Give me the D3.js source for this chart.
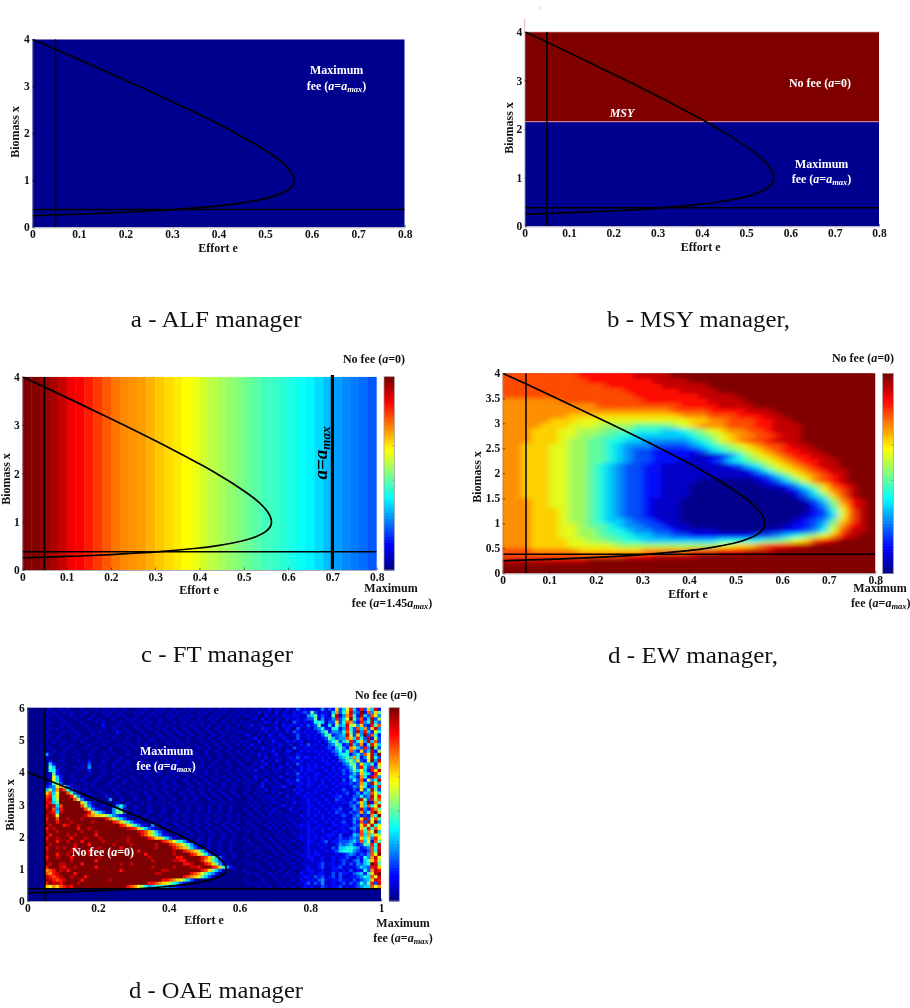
<!DOCTYPE html>
<html><head><meta charset="utf-8">
<script src="https://cdn.jsdelivr.net/npm/d3@7"></script>
<style>
html,body{margin:0;padding:0;background:#fff}
svg{filter:blur(.35px)}
text{font-family:"Liberation Serif","Times New Roman",serif}
.b{font-weight:bold;font-size:12px;fill:#111}
.tick text{font-family:"Liberation Serif",serif;font-weight:bold;font-size:11.5px;fill:#111}
.cap{font-size:24px;fill:#111}
</style></head><body>
<svg id="c" width="910" height="1008"></svg>
<script>
// ---------- data ----------
const curveBiomass=[0.25,0.28,0.32,0.38,0.45,0.5,0.6,0.7,0.8,0.9,1,1.1,1.2,1.35,1.5,1.75,2,2.15,2.5,3,3.5,3.8,4];
const curveEffort=[0,0.1,0.201,0.31,0.394,0.4375,0.496,0.53,0.55,0.56,0.5625,0.56,0.554,0.54,0.521,0.482,0.4375,0.409,0.3375,0.229,0.116,0.047,0];
const minEffort=0.05, minBiomass=0.38, msyBiomass=2.15, ftEffortLimit=0.7;
const ticks08=[0,0.1,0.2,0.3,0.4,0.5,0.6,0.7,0.8];
const ticks10=[0,0.2,0.4,0.6,0.8,1];
const ticksY4=[0,1,2,3,4];
const ticksYHalf=[0,0.5,1,1.5,2,2.5,3,3.5,4];
const ticksY6=[0,1,2,3,4,5,6];
// FT manager: colour level per effort column (step 0.02), 1 = no fee, 0 = max
const ftLevels=[1,.995,.98,.96,.93,.89,.875,.85,.82,.79,.76,.74,.73,.72,.70,.68,.66,.645,.625,.61,.58,.56,.54,.52,.50,.48,.46,.44,.43,.415,.40,.38,.365,.34,.31,.28,.26,.245,.23,.21];
// EW manager: hex levels (0..f); rows x=3.95 down to 0.05, columns e step 0.02; short rows continue with f
const ewRows=[
"ccccccccddddddeeee",
"cccccccccdddddddeeee",
"cccccccccccddddddeeeee",
"cccccccccccccddddddeeee",
"ccccccccccccccdddddddeeee",
"bbbbbbcccccccccdddddddeeee",
"bbbbbbbbbbcccccccccddddeeee",
"bbbbbbbbbbbbbbbbbbccccddddeee",
"bbbbbbbaaaaaaaaaaaabbbcccdddee",
"bbbbbaaa999999999999aabbcccddee",
"bbbbaaa9998888777789abbbcccddeee",
"bbbaaa99888777666556789abbccdeee",
"bbbaaa998877665555556789abbccdee",
"bbbaaa988776655444445679abccdeee",
"bbaaa998877654443333456789abccdee",
"bbaaa9988776543322222356789abcddee",
"bbaaa99887765433222211124689abcddee",
"bbaaa998877654332221112356789abcddee",
"bbaaa9988765433221111111235689abcdee",
"bbaaa99887654332211111111124689abcdee",
"bbaaa998876543322111111111123579abcde",
"bbaaa998876543322111100000012"+"3579bcde",
"bbaaa99887654332211100000000"+"112468acde",
"bbaaa99887654332211100000000"+"0012469bce",
"bbaaa99887654332211100000000"+"0001357ace",
"bbbaa99887654332111"+"0000000000000"+"1358bde",
"bbbaa99887654332111"+"00000000000000"+"247ade",
"bbbaaa9887654332111"+"00000000000000"+"2369ce",
"bbbaaa9887654332111"+"0000000000000"+"12359cef",
"bbbaaa9887655433211"+"000000000000"+"12347ace",
"bbbaaa99877654433211"+"0000000000"+"122358bde",
"bbbaaa99887665443321111"+"00000"+"11223469cee",
"bbbaaa99887766554433"+"2222222"+"33456789bde",
"bbbaaaa99887766"+"55555555"+"66666"+"77"+"89acde",
"bbbaaaa99999"+"88888888888"+"99aabcddee",
"cccbbbbb"+"aaaaaaa"+"bbbbb"+"ccc"+"ddd"+"eee",
"ccccccccccccc"+"ddd"+"eeeee",
"eeeeeeeee",
"",
""];
// OAE manager: hex levels; rows x=5.95 down to 0.05; columns e step 0.01. Left part e<0.6, right part e>=0.6
const oaeLeft=[
"000000100101000100010010100100010100101001001010010100101001",
"000001010010100010000101001000101001010010100100101001010010",
"000000101000100100100010010100010010100101001010010010100101",
"000001000100010001001000100010100100010010010100100101001010",
"000000100010000100010100001001001010010001001001010010010010",
"000001000101000010000200010000100100100100010010010100101001",
"000000101000100001000100100100010010001001001001001001001010",
"000001000010010000101000020010001000100100100100100100101001",
"000000100100001000100010010001000100010010010010010010010010",
"000001001000010010001000100010010001001001000100100100100101",
"000000010010000100010010000100010010000100100100010010010010",
"000001000100100001000100010001000100100010010001001001001001",
"000000100001000010010001000100100010001001000100100100100100",
"000000010010010000100001000010001000100010010010001001001001",
"000004100100001001000100100010001000100010001001001000100100",
"000001000010010000100010001000100100010001000100100100100010",
"000000200100001002000100010010001001000100100010010001001001",
"000000520010000103000100100010010001000100100010010010001000",
"000000750100010104001000100100010010010001000100100100100100",
"000000662010001002000100010001000100010010010001001001001001",
"000000172100010001000100100100010010010001001001001001000100",
"000000195200100010001000010001000100100100100100010010010010",
"000000195200010100010000100100100010001001001001001001001001",
"000000277300100010100001000100010001001001000100100100010010",
"000002349b73101000100010010001000100100100100010010010010010",
"00000584bec6310010001000100100010001001001000100100100100100",
"00000ac59ffc731001000100010001000100100100010010010010010010",
"00000cd6afffd84100100020001000100010010010001001001001001001",
"00000de68ffffc8410010004001000100010001001001001000100100100",
"00000ed57ffffffa73100100010010001000100010010010010010010010",
"00000dfe5cfffffc84200100146300100010001001000100100100100100",
"00000efc4dffffffc8421000475200100010001000100100100100100100",
"00000fed5efffffffda75310478300100010001000100100100100100100",
"00000efe9fffffffecbaa986432100100100010001001001001001001001",
"00000dffcffefffeffffffdb975310010001000100100100100100100100",
"00000effdfffefffffefffffdca8642100100010010010010010010010010",
"00000fefffdeffefffffffffffdca864210400100010010010010001001001",
"00000dfeffffffdffeffffffffffedca7532100100010001001001001001",
"00000effeffffffefffefffffffffffedca853100100010010010010010010",
"00000fdffffefefffffdffffffffffffdca86421001000100100100100100",
"00000dffefffdfffefffefffffffefffffdcaa7531001000100100010010",
"00000effdffefffdfffffeffffffefffffffffdcb976420010010010010010",
"00000feffffffefffdffffffeffffeffffffefffdcba86421001001001001",
"00000dffefeffdffffffefffffdfffffffffeffffdcba853100100100100",
"00000effffffeffffdfffffefffffffdfffffffffeffdcba85310010010",
"00000effdffefffffeffffffeffffffffdfffffffeffffdca8631001001",
"00000dffefffdfffffffefffffffffffffefffffffddfffffdca7531001",
"00000effffffeffffffdfffffffffffffffefffffeeddffffdba753100",
"00000feffeeffffdffffffffffeffeffffffffffffffddefffdca74210",
"00000dfffedffefffffdfffffffffffffffefffffeffffeedfffdca6421",
"00000bcdfefdffffffffffffffdfffffffffffeefffffffffdca7531000",
"00000cbdeffffdffffffffffffffffffffffeeffffffffdcb975420000",
"00000edcdeffefffdfffffffffffffffffffffffffffdcba975310000",
"00000fedcdeffffdfffffffeffffffffffffffddcba97531000000",
"00000dfeedffffefffffffffffffffffffddcba9865321000",
"00000a9bacdedfffffffffffffffdcb9864566543321",
"","","",""];
const oaeRight=[
"0100101020 1102013121 2114132a35 9d52d3a5e2",
"1001020110 2011021232 7312215b36 ae43f2c4a7",
"0110100201 1021122114 5723217e14 bd62e53c94",
"0001102010 1102112123 3714124d35 9f73c25e38",
"1010010210 2011032121 2665133a36 cb42d46e53",
"0102011001 1021211213 2372152845 e894a32d7c",
"0010102110 2012103112 1346226624 d63c5b3ae4",
"1001010201 1102032121 2135724436 c73e4d5296",
"0120010021 0210113112 1213672345 e83a4f3c62",
"0001201011 1021013112 1212375344 ca5d63e283",
"1010020102 1102121201 1121246735 7d36a4e5c3",
"0102010011 0210201213 1212134762 3e53b26da5",
"0010102101 1101031121 2111232574 2ba53d4f73",
"0101001012 0102201212 1212123463 6c42a35e28",
"1001020101 2011012111 1121212356 62463c9e4f",
"0110010201 1101213122 1212121245 75b6249e63",
"0010102010 2101121211 2112212134 685a329f4e",
"1000101201 0102013112 1211221213 4773a5462a",
"0101012001 0210201212 1212112122 3583d63d38",
"0010200101 1101021212 2111212123 2475952dae",
"1001010110 1002113121 1221121213 2353a652d9",
"0100201001 0210102212 1211212122 2542b62ec4",
"0010100201 1002113112 1212121213 1363c2946e",
"0101002010 1101211212 2112112122 2323b63ea5",
"0010012001 0121002112 1121211212 1243a6236d",
"0010010201 1001021211 1212112123 2132a36e73",
"0100101001 0201012112 1211121212 3124254c96",
"0010010110 1002011121 2112112231 2133634e9d",
"0001001011 0110110112 1211211322 1242e73d8c",
"0010100101 1001021112 1121121212 2324a5f2b7",
"0001010010 0120110112 2112112121 1342a5c69e",
"0100100101 1001201112 1211212231 2143e42db7",
"0010010011 0100111012 1121121322 1323b36dfa",
"0001001010 1011010212 1212112123 2134232b6f",
"0100100101 0101101111 2112121212 1243ae39c7",
"0010010010 1010110112 1211212123 1242c3e9f4",
"0001000101 0101011212 1121112212 2133ad8e69",
"0100100010 1010101112 1212121122 1342a7d6c9",
"0010010001 0100110112 2112112212 2132c6b9f5",
"0000100100 1010011112 1211222131 1254c5b6a8",
"0100010010 0101001212 1212121232 2343a6a4d9",
"0010001001 0010110112 2112312233 3453c592c7",
"0001000100 1001001012 1121211243 4532376d6e",
"0100010010 0100100112 1112113255 6654234c6d",
"0000100001 0010011012 1211212356 6643213c6e",
"0010001000 1001001112 1221111212 3432324c9f",
"0000010010 0010110112 2112112122 3213264be9",
"0100000100 1001001011 2112112123 2134257ad8",
"0010100010 0100110111 1123122123 1324356fe7",
"0000010001 0010011012 1123112231 2123543dea",
"0100001000 0100100112 2112112212 1312263bed",
"0010100010 1001010211 2122113132 2134526aef",
"0000010001 0010101122 1323123131 1223465c9e",
"0100001000 1000110212 2134212232 2132345aed",
"0010100100 0101001123 1324112123 1323647d3e",
"0000010010 0010110121 2113212231 2123455c9b",
"","","",""];
const oaeRows=oaeLeft.map((r,i)=>r.padEnd(60,"0").slice(0,60)+oaeRight[i].replace(/ /g,"").padEnd(40,"0").slice(0,40));
const cbLevels=d3.range(64);

// ---------- helpers ----------
const jet=d3.scaleLinear()
  .domain([0,.125,.375,.625,.875,1])
  .range(["#00008f","#0000ff","#00ffff","#ffff00","#ff0000","#800000"]);
const svg=d3.select("#c");
const defs=svg.append("defs");
[["blur1","3.5 2.2"],["blur2",".5"]].forEach(([id,s])=>defs.append("filter").attr("id",id)
  .attr("x","-5%").attr("y","-5%").attr("width","110%").attr("height","110%")
  .append("feGaussianBlur").attr("stdDeviation",s));
let clipN=0;

function panel(o){
  const x=d3.scaleLinear().domain([0,o.eMax]).range([o.x0,o.x1]);
  const y=d3.scaleLinear().domain([0,o.yMax]).range([o.y1,o.y0]);
  const id="clip"+(clipN++);
  defs.append("clipPath").attr("id",id).append("rect")
    .attr("x",o.x0).attr("y",o.y0).attr("width",o.x1-o.x0).attr("height",o.y1-o.y0);
  const g=svg.append("g");
  const plot=g.append("g").attr("clip-path",`url(#${id})`);
  o.fill(plot,x,y);
  const ov=g.append("g").attr("clip-path",`url(#${id})`);
  ov.append("line").attr("x1",x(minEffort)).attr("x2",x(minEffort)).attr("y1",o.y0).attr("y2",o.y1)
    .attr("stroke","#000").attr("stroke-width",1.5);
  ov.append("line").attr("x1",o.x0).attr("x2",o.x1).attr("y1",y(minBiomass)).attr("y2",y(minBiomass))
    .attr("stroke","#000").attr("stroke-width",1.5);
  const line=d3.line().x(d=>x(d[0])).y(d=>y(d[1])).curve(d3.curveCatmullRom);
  ov.append("path").datum(curveEffort.map((e,i)=>[e,curveBiomass[i]])).attr("d",line)
    .attr("fill","none").attr("stroke","#000").attr("stroke-width",1.7);
  const ax=d3.axisBottom(x).tickValues(o.xTicks).tickFormat(String).tickSizeInner(-2.5).tickSizeOuter(0).tickPadding(3);
  const ay=d3.axisLeft(y).tickValues(o.yTicks).tickFormat(String).tickSizeInner(-2.5).tickSizeOuter(0).tickPadding(2.5);
  const gx=g.append("g").attr("transform",`translate(0,${o.y1})`).call(ax);
  const gy=g.append("g").attr("transform",`translate(${o.x0},0)`).call(ay);
  [gx,gy].forEach(s=>{s.select(".domain").attr("stroke","#8a8a9a").attr("stroke-width",.7);
    s.selectAll(".tick line").attr("stroke","#000").attr("stroke-width",.5);});
  g.append("text").attr("class","b").attr("text-anchor","middle").attr("x",o.xl[0]).attr("y",o.xl[1]+3.5).text("Effort e");
  g.append("text").attr("class","b").attr("text-anchor","middle")
    .attr("transform",`translate(${o.yl[0]+3.5},${o.yl[1]}) rotate(-90)`).text("Biomass x");
  return {g,x,y};
}
function label(g,cx,cy,txt,fill){
  const t=g.append("text").attr("class","b").attr("text-anchor","middle").attr("x",cx).attr("y",cy+3.5).style("fill",fill);
  txt.forEach(([s,it])=>{t.append("tspan").style("font-style",it?"italic":"normal").text(s);});
}
function fee(g,cx,cy,coef,fill){
  const t=g.append("text").attr("class","b").attr("text-anchor","middle").attr("x",cx).attr("y",cy+3.5).style("fill",fill);
  t.append("tspan").text("fee (");
  t.append("tspan").style("font-style","italic").text("a");
  t.append("tspan").text("="+coef);
  t.append("tspan").style("font-style","italic").text("a");
  t.append("tspan").style("font-style","italic").style("font-size","8.5px").attr("dy",2).text("max");
  t.append("tspan").attr("dy",-2).text(")");
}
function noFee(g,cx,cy,fill){ label(g,cx,cy,[["No fee (",0],["a",1],["=0)",0]],fill); }
function cap(x,y,s,w){ svg.append("text").attr("class","cap").attr("x",x).attr("y",y).attr("textLength",w).attr("lengthAdjust","spacingAndGlyphs").text(s); }
function colorbar(x0,x1,y0,y1){
  const g=svg.append("g");
  const y=d3.scaleLinear().domain([0,64]).range([y1,y0]);
  g.selectAll("rect").data(cbLevels).join("rect")
    .attr("x",x0).attr("width",x1-x0).attr("y",d=>y(d+1)).attr("height",d=>y(d)-y(d+1)+.5)
    .attr("fill",d=>jet(d/63));
  g.append("rect").attr("x",x0).attr("y",y0).attr("width",x1-x0).attr("height",y1-y0)
    .attr("fill","none").attr("stroke","#999").attr("stroke-width",.7);
  d3.range(1,6).forEach(i=>{const yy=y0+(y1-y0)*i/5.6;
    g.append("line").attr("x1",x1-1.5).attr("x2",x1).attr("y1",yy).attr("y2",yy).attr("stroke","#555").attr("stroke-width",.5);});
}
function heat(plot,x,y,rows,eStep,yStep,yTop,bg,blur,o){
  plot.append("rect").attr("x",o.x0).attr("y",o.y0).attr("width",o.x1-o.x0).attr("height",o.y1-o.y0).attr("fill",bg);
  const nCols=Math.round(o.eMax/eStep), pad=12;
  const cells=[];
  rows.forEach((r,ri)=>{for(let ci=0;ci<nCols;ci++){
    const ch=r[ci]||(bg===jet(1)?"f":"0");
    cells.push({ci,ri,v:parseInt(ch,16)/15});
  }});
  // edge cells reach past the clip so that the blur does not fade at the plot border
  plot.append("g").attr("filter",`url(#${blur})`).selectAll("rect").data(cells).join("rect")
    .attr("x",d=>x(d.ci*eStep)-(d.ci===0?pad:0)).attr("width",d=>x(eStep)-x(0)+.4+(d.ci===0?pad:0))
    .attr("y",d=>y(yTop-d.ri*yStep)-(d.ri===0?pad:0)).attr("height",d=>y(0)-y(yStep)+.4+(d.ri===0?pad:0))
    .attr("fill",d=>jet(d.v));
}

// ---------- a ----------
{const o={x0:32.3,x1:404.7,y0:39.3,y1:227.3,eMax:.8,yMax:4,xTicks:ticks08,yTicks:ticksY4,xl:[218,248],yl:[15.5,132],
  fill:(p)=>{p.append("rect").attr("x",32.3).attr("y",39.3).attr("width",372.4).attr("height",188).attr("fill",jet(0));}};
 const {g}=panel(o);
 label(g,336.7,70.7,[["Maximum",0]],"#fff");
 fee(g,336.5,86,"","#fff");
 cap(130.7,327,"a - ALF manager",171);}
// ---------- b ----------
{const o={x0:524.7,x1:879,y0:31.7,y1:226.3,eMax:.8,yMax:4,xTicks:ticks08,yTicks:ticksY4,xl:[700.7,247],yl:[509,128]};
 o.fill=(p,x,y)=>{
  p.append("rect").attr("x",o.x0).attr("y",y(msyBiomass)).attr("width",o.x1-o.x0).attr("height",o.y1-y(msyBiomass)).attr("fill",jet(0));
  p.append("rect").attr("x",o.x0).attr("y",o.y0).attr("width",o.x1-o.x0).attr("height",y(msyBiomass)-o.y0).attr("fill",jet(1));
  p.append("line").attr("x1",o.x0).attr("x2",o.x1).attr("y1",y(msyBiomass)).attr("y2",y(msyBiomass)).attr("stroke","#e09090").attr("stroke-width",1);
  p.append("line").attr("x1",o.x0).attr("x2",o.x1).attr("y1",o.y0+.3).attr("y2",o.y0+.3).attr("stroke","#d08080").attr("stroke-width",.8);
 };
 const {g}=panel(o);
 g.append("line").attr("x1",524.7).attr("x2",524.7).attr("y1",19).attr("y2",32).attr("stroke","#e0a0a0").attr("stroke-width",.8);
 g.append("rect").attr("x",540).attr("y",7).attr("width",1).attr("height",2).attr("fill","#ccc");
 noFee(g,820,83,"#fff");
 label(g,821.7,164,[["Maximum",0]],"#fff");
 fee(g,821.5,179,"","#fff");
 label(g,622,113,[["MSY",1]],"#fff");
 cap(607,327,"b - MSY manager,",183);}
// ---------- c ----------
{const o={x0:22.3,x1:376.7,y0:376.7,y1:570,eMax:.8,yMax:4,xTicks:ticks08,yTicks:ticksY4,xl:[199,590],yl:[6,479]};
 o.fill=(p,x)=>{
  p.selectAll("rect").data(ftLevels).join("rect")
   .attr("x",(d,i)=>x(i*.02)).attr("width",x(.02)-x(0)+.4).attr("y",o.y0).attr("height",o.y1-o.y0).attr("fill",d=>jet(d));
 };
 const {g,x}=panel(o);
 g.append("line").attr("x1",x(ftEffortLimit)).attr("x2",x(ftEffortLimit)).attr("y1",375).attr("y2",569).attr("stroke","#000").attr("stroke-width",3.2);
 const t=g.append("text").attr("transform","translate(327,453) rotate(-90)").attr("text-anchor","middle")
   .style("font-weight","bold").style("font-style","italic").style("font-size","19px").attr("fill","#000");
 t.append("tspan").text("a=a");
 t.append("tspan").style("font-size","13px").attr("dy",3).text("max");
 noFee(g,374,359,"#111");
 label(g,391,588,[["Maximum",0]],"#111");
 fee(g,392,603,"1.45","#111");
 colorbar(384,394.3,376.7,570);
 cap(141,662,"c - FT manager",152);}
// ---------- d ----------
{const o={x0:502.7,x1:875.3,y0:373.3,y1:573.3,eMax:.8,yMax:4,xTicks:ticks08,yTicks:ticksYHalf,xl:[688,594],yl:[477,477]};
 o.fill=(p,x,y)=>heat(p,x,y,ewRows,.02,.1,4,jet(1),"blur1",o);
 const {g}=panel(o);
 noFee(g,863,358,"#111");
 label(g,880,588,[["Maximum",0]],"#111");
 fee(g,880.7,603,"","#111");
 colorbar(882.7,893.3,373.3,573.3);
 cap(608,663,"d - EW manager,",170);}
// ---------- e ----------
{const o={x0:27.3,x1:381,y0:707.7,y1:901,eMax:1,yMax:6,xTicks:ticks10,yTicks:ticksY6,xl:[204,920.7],yl:[10.7,805]};
 o.fill=(p,x,y)=>heat(p,x,y,oaeRows,.01,.1,6,jet(0),"blur2",o);
 const {g}=panel(o);
 label(g,166.7,751,[["Maximum",0]],"#fff");
 fee(g,166,766,"","#fff");
 noFee(g,103,852.7,"#fff");
 noFee(g,386,695,"#111");
 label(g,403,923,[["Maximum",0]],"#111");
 fee(g,403,938,"","#111");
 colorbar(389,399.3,707.7,901);
 cap(129,998,"d - OAE manager",174);}
</script>
</body></html>
